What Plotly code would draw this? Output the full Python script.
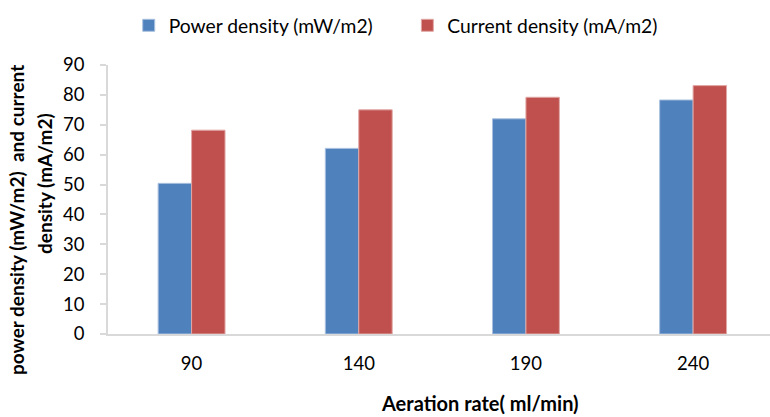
import plotly.graph_objects as go

categories = ["90", "140", "190", "240"]
power_density = [50.4, 62.1, 72.0, 78.3]
current_density = [68.2, 75.0, 79.2, 83.1]
y_ticks = [0, 10, 20, 30, 40, 50, 60, 70, 80, 90]

FONT = "Lato"
TXT = "#000000"
PAD = "\u00a0" * 6

fig = go.Figure()
fig.add_trace(go.Bar(
    x=categories, y=power_density, name="Power density (mW/m2)" + PAD,
    marker=dict(color="#4F81BD", line=dict(color="#A9C0DE", width=1)),
))
fig.add_trace(go.Bar(
    x=categories, y=current_density, name="Current density (mA/m2)",
    marker=dict(color="#C0504D", line=dict(color="#E0A8A6", width=1)),
))

fig.update_layout(
    width=770, height=417,
    margin=dict(l=108, r=0, t=65, b=83),
    paper_bgcolor="white", plot_bgcolor="white",
    font=dict(family=FONT, size=18, color=TXT),
    barmode="group", bargap=0.6, bargroupgap=0,
    showlegend=True,
    legend=dict(orientation="h", x=0.4346, xanchor="center", y=0.985, yanchor="top",
                yref="container", font=dict(size=19.3), itemwidth=30,
                traceorder="normal"),
    xaxis=dict(
        type="category", range=[-0.5, 3.46],
        showline=True, linecolor="#D9D9D9", linewidth=2,
        ticks="", showgrid=False, tickfont=dict(size=18.5), ticklabelstandoff=12,
    ),
    yaxis=dict(
        range=[0, 90], tickvals=y_ticks,
        showline=True, linecolor="#D9D9D9", linewidth=1.5,
        ticks="outside", ticklen=6, tickcolor="#D9D9D9", tickwidth=1.5,
        showgrid=False, zeroline=False, tickfont=dict(size=18.5), ticklabelstandoff=12,
    ),
)

fig.add_annotation(
    text="<b>Aeration rate( ml/min)</b>", xref="paper", yref="paper",
    x=(480 - 108) / 662, y=-(403 - 334) / 269, xanchor="center", yanchor="middle",
    showarrow=False, font=dict(size=20),
)
fig.add_annotation(
    text="<b>power density (mW/m2)  and current</b>",
    xref="paper", yref="paper", textangle=-90,
    x=(16 - 108) / 662, y=(334 - 220) / 269, xanchor="center", yanchor="middle",
    showarrow=False, font=dict(size=19),
)
fig.add_annotation(
    text="<b>density (mA/m2)</b>",
    xref="paper", yref="paper", textangle=-90,
    x=(44 - 108) / 662, y=(334 - 184) / 269, xanchor="center", yanchor="middle",
    showarrow=False, font=dict(size=19),
)

fig.write_html("out.html")
